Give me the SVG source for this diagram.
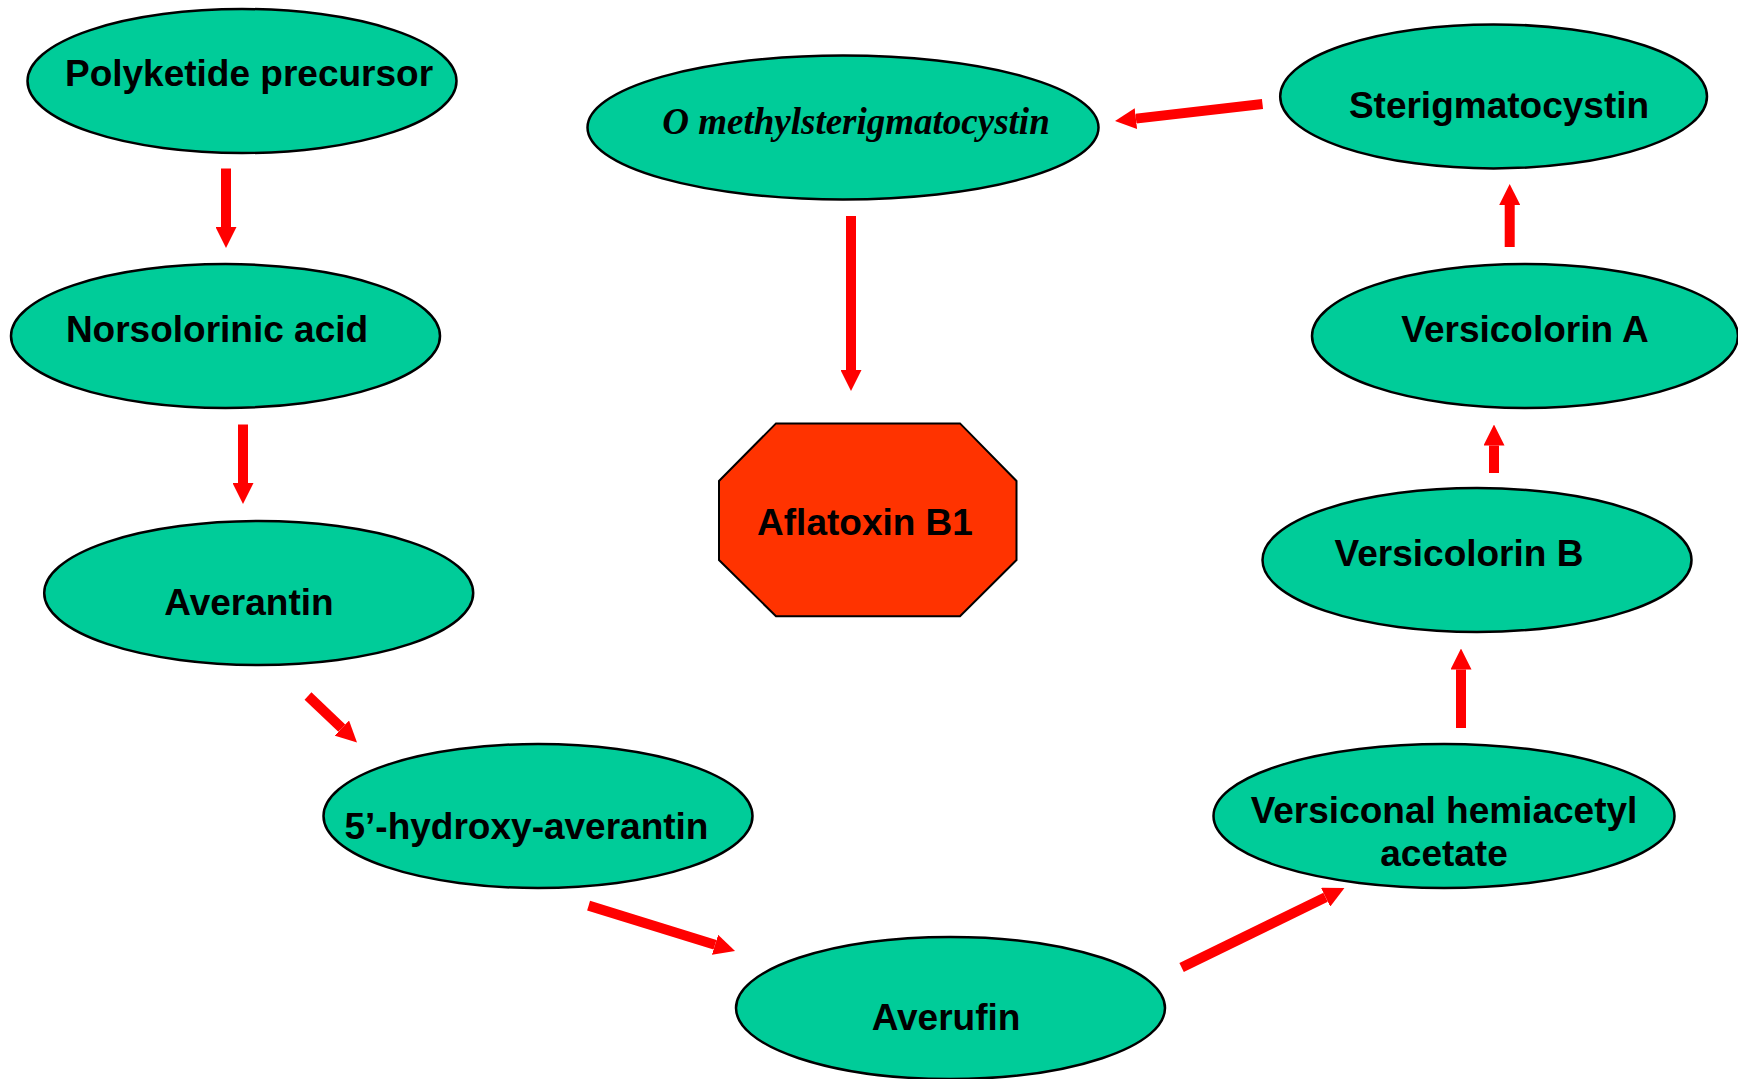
<svg xmlns="http://www.w3.org/2000/svg" width="1738" height="1079" viewBox="0 0 1738 1079">
<style>
.node ellipse{fill:#00CC99;stroke:#000;stroke-width:2.5}
.oct{fill:#FF3300;stroke:#000;stroke-width:2}
text{font-family:"Liberation Sans",Arial,sans-serif;font-weight:bold;font-size:37px;fill:#000;text-anchor:middle}
text.it{font-family:"Liberation Serif","Times New Roman",serif;font-style:italic;font-size:37px}
.arr line{stroke:#FF0000;stroke-width:10;marker-end:url(#ah)}
</style>
<defs>
<marker id="ah" viewBox="0 0 10 10" refX="0" refY="5" markerWidth="2.1" markerHeight="2.1" orient="auto" markerUnits="strokeWidth">
<path d="M0,0 L10,5 L0,10 Z" fill="#FF0000"/>
</marker>
</defs>
<rect width="1738" height="1079" fill="#fff"/>
<g id="connectors" class="arr">
<line x1="226" y1="168.5" x2="226" y2="227"/>
<line x1="243" y1="424.5" x2="243" y2="483"/>
<line x1="308" y1="696" x2="341.8" y2="728.1"/>
<line x1="588.6" y1="905.6" x2="715" y2="944.8"/>
<line x1="1181.6" y1="967.6" x2="1325.6" y2="897.2"/>
<line x1="1461" y1="728" x2="1461" y2="669.5"/>
<line x1="1494" y1="473" x2="1494" y2="445.5"/>
<line x1="1509.7" y1="247" x2="1509.7" y2="205"/>
<line x1="1262.5" y1="104" x2="1135.9" y2="118.6"/>
<line x1="851" y1="216" x2="851" y2="370"/>
</g>
<g id="polyketide" class="node"><ellipse cx="242" cy="81" rx="214.5" ry="72"/><text x="249" y="86">Polyketide precursor</text></g>
<g id="norsolorinic" class="node"><ellipse cx="225.5" cy="336" rx="214.5" ry="72"/><text x="217" y="342">Norsolorinic acid</text></g>
<g id="averantin" class="node"><ellipse cx="258.7" cy="593" rx="214.5" ry="72"/><text x="249" y="614.5">Averantin</text></g>
<g id="hydroxyaverantin" class="node"><ellipse cx="538" cy="816" rx="214.5" ry="72"/><text x="526.5" y="838.5">5’-hydroxy-averantin</text></g>
<g id="averufin" class="node"><ellipse cx="950.5" cy="1008" rx="214.5" ry="71"/><text x="946" y="1030">Averufin</text></g>
<g id="versiconal" class="node"><ellipse cx="1444" cy="816" rx="230.5" ry="72"/><text x="1444" y="822.5">Versiconal hemiacetyl</text><text x="1444" y="866">acetate</text></g>
<g id="versicolorinB" class="node"><ellipse cx="1477" cy="560" rx="214.5" ry="72"/><text x="1459" y="565.5">Versicolorin B</text></g>
<g id="versicolorinA" class="node"><ellipse cx="1525" cy="336" rx="213" ry="72"/><text x="1525" y="341.5">Versicolorin A</text></g>
<g id="sterigmatocystin" class="node"><ellipse cx="1493.6" cy="96.4" rx="213.4" ry="72"/><text x="1499" y="117.5">Sterigmatocystin</text></g>
<g id="omethyl" class="node"><ellipse cx="843" cy="127.5" rx="255.5" ry="72"/><text class="it" x="856" y="134">O methylsterigmatocystin</text></g>
<g id="aflatoxin"><polygon class="oct" points="776,423.4 960,423.4 1016.5,481 1016.5,560 960,616.3 776,616.3 719,560 719,481"/><text x="865" y="534.5">Aflatoxin B1</text></g>
</svg>
